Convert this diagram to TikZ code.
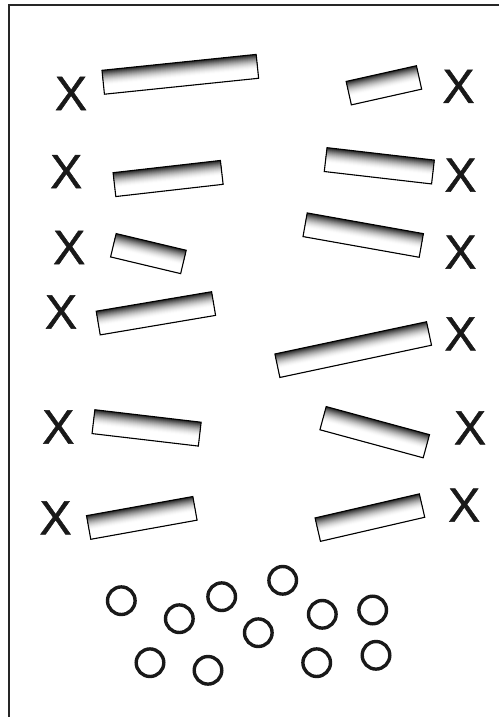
\documentclass[tikz,border=0pt]{standalone}
\usepackage{fontspec}
\setmainfont{Liberation Sans}
\newfontfamily\xfont[FakeBold=1]{Liberation Sans}
\tikzset{
  baredge/.style={draw=black, line width=1.1pt},
  mark x/.style={inner sep=0pt, font=\xfont\fontsize{48}{48}\selectfont, text=black!90},
  ring/.style={draw=black!90, line width=3.4pt, circle, minimum size=27.6pt, inner sep=0pt},
  frameline/.style={line width=2pt, draw=black!85}
}
% gradient bar: name, x, y, angle, length
\newcommand{\gradbar}[5]{%
\begin{scope}[shift={(#2,#3)}, rotate=#4]
  \coordinate (#1) at (0,0);
  \foreach \i in {0,...,30}{
    \pgfmathsetmacro{\dk}{88*(1-\i/30)^1.7}
    \fill[black!\dk] ({-#5/2},{-12+\i*0.5}) rectangle ({#5/2},12);
  }
  \draw[baredge] ({-#5/2},-12) rectangle ({#5/2},12);
\end{scope}}
\begin{document}
\begin{tikzpicture}[x=1pt,y=-1pt]
\useasboundingbox (0,0) rectangle (499,717);
% frame (top and left edges visible)
\coordinate (fr) at (499,5);
\coordinate (fc) at (9,5);
\coordinate (fb) at (9,717);
\draw[frameline] (fr) -- (fc) -- (fb);
% bars
\gradbar{b1}{180.3}{74.3}{5.9}{155}
\gradbar{b2}{383.9}{85.3}{12.6}{72}
\gradbar{b3}{168.1}{178.5}{6.5}{108}
\gradbar{b4}{148.4}{253.6}{-13.4}{72}
\gradbar{b5}{155.9}{313.3}{9.6}{117}
\gradbar{b6}{379.3}{165.8}{-6.6}{108}
\gradbar{b7}{363.2}{235.1}{-10.1}{118}
\gradbar{b8}{353.2}{349.6}{12.0}{155}
\gradbar{b9}{146.6}{427.9}{-6.7}{107}
\gradbar{b10}{141.8}{517.9}{10.2}{108}
\gradbar{b11}{374.7}{432.2}{-15.2}{107}
\gradbar{b12}{369.9}{517.6}{13.0}{107}
% X marks
\node[mark x] (x1)  at (71,93.5) {X};
\node[mark x] (x2)  at (458.5,86.3) {X};
\node[mark x] (x3)  at (66.2,171.7) {X};
\node[mark x] (x4)  at (460.5,175.2) {X};
\node[mark x] (x5)  at (69.2,247.5) {X};
\node[mark x] (x6)  at (460.5,252.2) {X};
\node[mark x] (x7)  at (61,312) {X};
\node[mark x] (x8)  at (460.5,333.8) {X};
\node[mark x] (x9)  at (58.3,427) {X};
\node[mark x] (x10) at (470,427.8) {X};
\node[mark x] (x11) at (55.5,517.8) {X};
\node[mark x] (x12) at (464.2,505.2) {X};
% rings
\node[ring] (c1)  at (121.3,600.7) {};
\node[ring] (c2)  at (179.3,618.7) {};
\node[ring] (c3)  at (221.7,596.7) {};
\node[ring] (c4)  at (282.7,580.3) {};
\node[ring] (c5)  at (258.3,632.7) {};
\node[ring] (c6)  at (322.3,614.3) {};
\node[ring] (c7)  at (372.7,610) {};
\node[ring] (c8)  at (150,662.7) {};
\node[ring] (c9)  at (208,670.3) {};
\node[ring] (c10) at (316.7,662.7) {};
\node[ring] (c11) at (376,655.3) {};
\end{tikzpicture}
\end{document}
